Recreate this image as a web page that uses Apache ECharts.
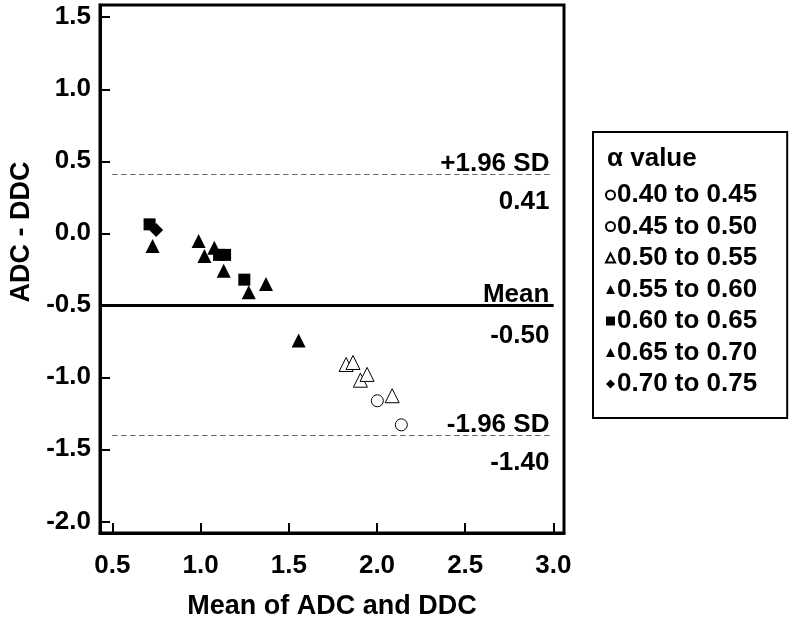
<!DOCTYPE html>
<html>
<head>
<meta charset="utf-8">
<script src="https://cdn.jsdelivr.net/npm/echarts@6/dist/echarts.min.js"></script>
<style>html,body{margin:0;padding:0;background:#fff}#c{width:800px;height:619px}</style>
</head>
<body>
<div id="c"></div>
<script>
// ---- data ----
var xTicks = [0.5, 1.0, 1.5, 2.0, 2.5, 3.0];
var yTicks = [-2.0, -1.5, -1.0, -0.5, 0.0, 0.5, 1.0, 1.5];
var seriesNames = ['0.40 to 0.45', '0.45 to 0.50', '0.50 to 0.55', '0.55 to 0.60', '0.60 to 0.65', '0.65 to 0.70', '0.70 to 0.75'];
var a040_045 = [[2.138, -1.33]];
var a045_050 = [[2.002, -1.163]];
var a050_055 = [[1.825, -0.911], [1.864, -0.897], [1.906, -1.02], [1.944, -0.98], [2.086, -1.128]];
var a055_060 = [[1.131, -0.26], [1.273, -0.41], [1.371, -0.352], [1.556, -0.744]];
var a060_065 = [[0.711, 0.062], [1.105, -0.15], [1.139, -0.15], [1.248, -0.322]];
var a065_070 = [[0.728, -0.088], [0.989, -0.053], [1.022, -0.157], [1.078, -0.10]];
var a070_075 = [[0.748, 0.023]];
var meanDiff = -0.50;
var upperLoA = 0.41;
var lowerLoA = -1.40;
var xMin = 0.43, xMax = 3.06, yMin = -2.081, yMax = 1.585;
var sdLineStartX = 0.5;
var lineEndX = 3.0;

var FONT = 'Liberation Sans, Arial, sans-serif';
var chart = echarts.init(document.getElementById('c'), null, {renderer: 'canvas'});

function refLine(y, x0, topText, bottomText, style, dTop, dBottom) {
  return [
    [{coord: [x0, y], lineStyle: style,
      label: {show: true, position: 'insideEndTop', formatter: topText, distance: [4, dTop]}},
     {coord: [lineEndX, y]}],
    [{coord: [x0, y], lineStyle: style,
      label: {show: true, position: 'insideEndBottom', formatter: bottomText, distance: [4, dBottom]}},
     {coord: [lineEndX, y]}]
  ];
}

var dashed = {color: '#666', width: 1, type: [5, 4]};
var solid = {color: '#000', width: 3, type: 'solid'};

var markData = [].concat(
  refLine(upperLoA, sdLineStartX, '+1.96 SD', upperLoA.toFixed(2), dashed, -3, 15),
  refLine(meanDiff, xMin, 'Mean', meanDiff.toFixed(2), solid, -3, 18),
  refLine(lowerLoA, sdLineStartX, '-1.96 SD', lowerLoA.toFixed(2), dashed, -3, 15)
);

function sc(name, data, symbol, size, filled) {
  return {
    name: name, type: 'scatter', data: data, symbol: symbol, symbolSize: size,
    itemStyle: filled ? {color: '#000', borderColor: '#000', borderWidth: 0, opacity: 1}
                      : {color: '#fff', borderColor: '#000', borderWidth: 1, opacity: 1},
    emphasis: {disabled: true}, z: 3
  };
}

var series = [
  sc(seriesNames[0], a040_045, 'circle', 12, false),
  sc(seriesNames[1], a045_050, 'circle', 12, false),
  sc(seriesNames[2], a050_055, 'triangle', 14, false),
  sc(seriesNames[3], a055_060, 'triangle', 14, true),
  sc(seriesNames[4], a060_065, 'rect', 12, true),
  sc(seriesNames[5], a065_070, 'triangle', 14, true),
  sc(seriesNames[6], a070_075, 'diamond', 14, true)
];
series[0].markLine = {
  silent: true, symbol: ['none', 'none'], animation: false,
  label: {color: '#000', fontFamily: FONT, fontWeight: 'bold', fontSize: 26},
  data: markData
};

chart.setOption({
  animation: false,
  backgroundColor: '#fff',
  title: {
    text: 'α value', left: 602, top: 141,
    textStyle: {color: '#000', fontFamily: FONT, fontWeight: 'bold', fontSize: 26}
  },
  legend: {
    orient: 'vertical', left: 593, top: 132,
    data: seriesNames,
    borderColor: '#000', borderWidth: 2,
    padding: [49, 30, 20, 12],
    itemWidth: 9, itemHeight: 9, itemGap: 3.5,
    textStyle: {color: '#000', fontFamily: FONT, fontWeight: 'bold', fontSize: 26, lineHeight: 28, padding: [0, 0, 0, -3]},
    selectedMode: false
  },
  grid: {
    left: 100, top: 5, width: 464, height: 528,
    outerBoundsMode: 'none', containLabel: false,
    show: true, borderColor: '#000', borderWidth: 3, backgroundColor: 'transparent'
  },
  xAxis: {
    type: 'value', min: xMin, max: xMax,
    name: 'Mean of ADC and DDC', nameLocation: 'middle', nameGap: 60,
    nameTextStyle: {color: '#000', fontFamily: FONT, fontWeight: 'bold', fontSize: 27},
    axisLine: {show: true, onZero: false, lineStyle: {color: '#000', width: 3}},
    axisTick: {show: true, inside: true, length: 10, lineStyle: {color: '#000', width: 2}, customValues: xTicks},
    axisLabel: {color: '#000', fontFamily: FONT, fontWeight: 'bold', fontSize: 26, margin: 20,
      customValues: xTicks, formatter: function (v) { return v.toFixed(1); }},
    splitLine: {show: false}
  },
  yAxis: {
    type: 'value', min: yMin, max: yMax,
    name: 'ADC - DDC', nameLocation: 'middle', nameGap: 62,
    nameTextStyle: {color: '#000', fontFamily: FONT, fontWeight: 'bold', fontSize: 27, padding: [0, 0, 0, 74]},
    axisLine: {show: true, onZero: false, lineStyle: {color: '#000', width: 3}},
    axisTick: {show: true, inside: true, length: 10, lineStyle: {color: '#000', width: 2}, customValues: yTicks},
    axisLabel: {color: '#000', fontFamily: FONT, fontWeight: 'bold', fontSize: 26, margin: 9,
      customValues: yTicks, formatter: function (v) { return v.toFixed(1); }},
    splitLine: {show: false}
  },
  series: series
});
</script>
</body>
</html>
